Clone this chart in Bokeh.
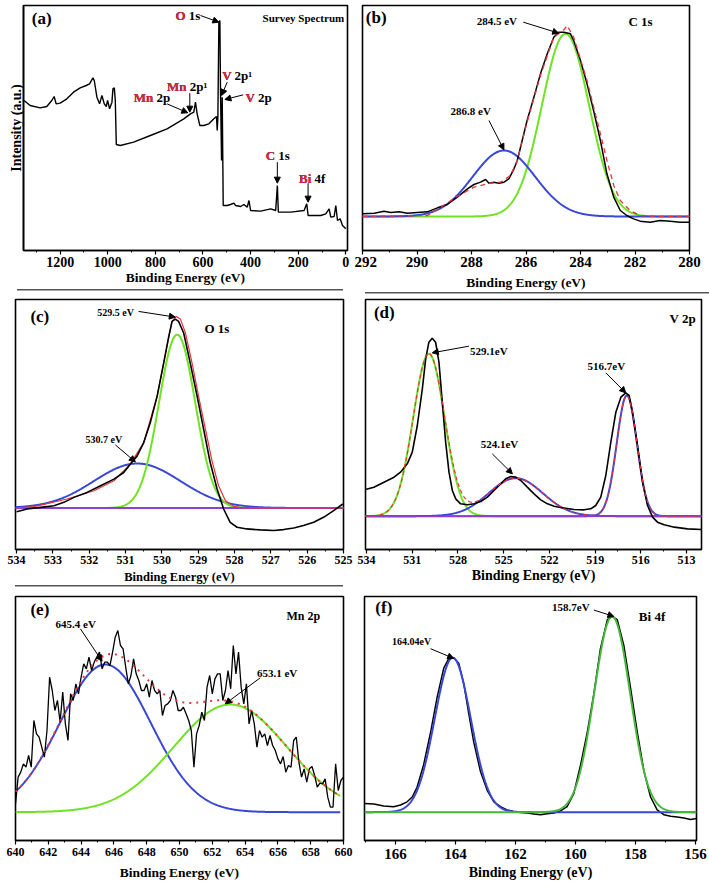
import numpy as np
from bokeh.plotting import figure
from bokeh.layouts import row, column
from bokeh.models import Range1d, Label, Arrow, NormalHead, SingleIntervalTicker, FixedTicker
from bokeh.embed import file_html
from bokeh.resources import INLINE

FONT = "Liberation Serif"
ELEM_RED = "#e0243c"
BLUE = "#3947d6"
GREEN = "#6ee321"
GREEN_F = "#45b83a"
PURPLE = "#8e3fcf"
FIT_RED = "#e8343a"

# ---------------- (a) survey spectrum ----------------
survey_ev = [1351.6, 1326.3, 1284.2, 1256.1, 1235.1, 1225.3, 1216.8, 1200.0, 1171.9, 1143.9,
             1115.8, 1090.5, 1076.5, 1062.4, 1056.8, 1045.6, 1034.4, 1024.6, 1014.7, 1006.3,
             1000.7, 992.3, 982.5, 978.3, 972.6, 968.4, 964.2, 947.4, 891.2, 821.0,
             750.9, 680.7, 652.6, 638.6, 631.6, 624.6, 613.3, 596.5, 575.4, 554.4,
             543.2, 540.3, 537.5, 533.3, 529.1, 526.3, 522.1, 519.3, 516.5, 515.1,
             498.2, 484.2, 470.2, 463.1, 442.1, 428.1, 414.0, 407.0, 400.0, 357.9,
             315.8, 294.7, 287.7, 283.5, 231.6, 175.4, 164.2, 158.6, 105.3, 84.2,
             70.2, 63.2, 49.1, 42.1, 35.1, 23.9, 14.0, 0.0]
survey_int = [450, 435, 428, 432, 450, 462, 440, 442, 455, 475,
              488, 495, 500, 518, 510, 460, 440, 465, 440, 432,
              450, 425, 445, 485, 488, 450, 318, 315, 325, 345,
              365, 395, 410, 415, 445, 410, 375, 375, 380, 395,
              402, 360, 400, 685, 690, 470, 270, 460, 250, 135,
              135, 138, 142, 135, 132, 138, 130, 150, 120, 118,
              125, 120, 195, 115, 115, 120, 140, 105, 105, 110,
              125, 100, 102, 135, 90, 95, 75, 65]

# ---------------- (b) C 1s ----------------
c1s_ev = [292.0, 291.57, 291.21, 290.96, 290.66, 290.35, 289.99, 289.62, 289.25, 288.89,
          288.52, 288.15, 287.91, 287.67, 287.48, 287.36, 287.18, 286.99, 286.81, 286.63,
          286.44, 286.32, 286.14, 285.96, 285.71, 285.47, 285.22, 284.98, 284.80, 284.61,
          284.37, 284.25, 284.00, 283.76, 283.52, 283.27, 283.03, 282.78, 282.54, 282.30,
          282.05, 281.81, 281.44, 281.08, 280.71, 280.34, 280.0]
c1s_int = [110, 112, 118, 114, 116, 112, 114, 116, 128, 138,
           160, 185, 198, 205, 213, 202, 205, 202, 205, 215,
           245, 270, 330, 390, 460, 530, 590, 640, 655, 655,
           650, 630, 570, 500, 420, 330, 230, 160, 120, 105,
           95, 88, 85, 90, 88, 85, 85]
c1s_env_ev = [292.0, 289.62, 289.13, 288.52, 287.91, 287.30, 286.93, 286.57, 286.32, 285.96,
              285.47, 284.98, 284.61, 284.49, 284.25, 283.76, 283.27, 283.03, 282.78, 282.54,
              282.18, 281.81, 281.20, 280.0]
c1s_env_int = [102, 105, 130, 162, 190, 202, 205, 225, 270, 385,
               525, 640, 662, 675, 640, 510, 350, 270, 195, 150,
               120, 105, 102, 102]
c1s_base = 102
c1s_peaks = [(284.55, 548, 0.87, GREEN), (286.81, 198, 1.14, BLUE)]

# ---------------- (c) O 1s ----------------
o1s_ev = [534.00, 533.71, 533.34, 532.97, 532.70, 532.42, 532.06, 531.69, 531.32, 531.05,
          530.87, 530.68, 530.50, 530.32, 530.13, 529.95, 529.81, 529.72, 529.63, 529.54,
          529.40, 529.22, 529.03, 528.85, 528.67, 528.48, 528.30, 528.12, 527.93, 527.66,
          527.29, 526.92, 526.65, 526.37, 526.10, 525.82, 525.55, 525.27, 525.02]
o1s_int = [114, 122, 127, 132, 142, 157, 172, 192, 212, 232,
           257, 282, 322, 382, 462, 562, 642, 687, 694, 687,
           652, 562, 462, 362, 262, 182, 122, 82, 67, 62,
           59, 57, 60, 65, 72, 82, 97, 117, 137]
o1s_env_ev = [534.00, 533.52, 532.61, 531.87, 531.32, 530.87, 530.50, 530.13, 529.86, 529.72,
              529.60, 529.49, 529.35, 529.17, 528.99, 528.80, 528.62, 528.44, 528.25, 528.02,
              527.75, 525.02]
o1s_env_int = [125, 129, 152, 177, 207, 257, 322, 462, 612, 687,
               702, 694, 652, 562, 462, 362, 267, 192, 147, 130,
               125, 125]
o1s_base = 125
o1s_peaks = [(530.68, 134, 1.19, BLUE), (529.58, 522, 0.50, GREEN)]

# ---------------- (d) V 2p ----------------
v2p_ev = [534.07, 533.52, 532.86, 532.20, 531.77, 531.33, 531.00, 530.67, 530.34, 530.12,
          529.91, 529.69, 529.47, 529.25, 529.03, 528.81, 528.59, 528.37, 528.15, 527.83,
          527.39, 526.95, 526.51, 526.07, 525.64, 525.20, 524.87, 524.54, 524.21, 523.88,
          523.45, 523.01, 522.57, 522.13, 521.69, 521.04, 520.38, 519.72, 519.29, 518.96,
          518.63, 518.30, 517.97, 517.64, 517.31, 516.99, 516.77, 516.55, 516.22, 515.89,
          515.56, 515.23, 514.91, 514.47, 513.81, 512.94, 512.02]
v2p_int = [180, 187, 202, 217, 232, 257, 292, 372, 482, 572,
           622, 634, 622, 562, 442, 322, 232, 177, 152, 137,
           134, 137, 144, 157, 177, 197, 212, 219, 217, 207,
           187, 167, 149, 137, 130, 124, 120, 119, 122, 132,
           157, 222, 322, 412, 457, 470, 462, 412, 312, 202,
           132, 97, 82, 74, 67, 62, 60]
v2p_base = 100
v2p_peaks = [(529.91, 487, 1.03, GREEN), (524.21, 114, 1.77, BLUE), (516.92, 362, 0.66, BLUE)]

# ---------------- (e) Mn 2p ----------------
mn_ev = [640.0, 640.16, 640.32, 640.48, 640.64, 640.8, 640.96, 641.12, 641.28, 641.44,
         641.6, 641.76, 641.92, 642.08, 642.24, 642.4, 642.56, 642.72, 642.88, 643.04,
         643.2, 643.36, 643.52, 643.68, 643.84, 644.0, 644.16, 644.32, 644.48, 644.64,
         644.8, 644.96, 645.12, 645.28, 645.44, 645.6, 645.76, 645.92, 646.08, 646.24,
         646.4, 646.56, 646.72, 646.88, 647.04, 647.2, 647.36, 647.52, 647.68, 647.84,
         648.0, 648.16, 648.32, 648.48, 648.64, 648.8, 648.96, 649.12, 649.28, 649.44,
         649.6, 649.76, 649.92, 650.08, 650.24, 650.4, 650.56, 650.72, 650.88, 651.04,
         651.2, 651.36, 651.52, 651.68, 651.84, 652.0, 652.16, 652.32, 652.48, 652.64,
         652.8, 652.96, 653.12, 653.28, 653.44, 653.6, 653.76, 653.92, 654.08, 654.24,
         654.4, 654.56, 654.72, 654.88, 655.04, 655.2, 655.36, 655.52, 655.68, 655.84,
         656.0, 656.16, 656.32, 656.48, 656.64, 656.8, 656.96, 657.12, 657.28, 657.44,
         657.6, 657.76, 657.92, 658.08, 658.24, 658.4, 658.56, 658.72, 658.88, 659.04,
         659.2, 659.36, 659.52, 659.68, 659.84, 660.0]
mn_int = [110, 190, 205, 230, 220, 255, 220, 360, 320, 310,
          280, 250, 330, 490, 450, 390, 420, 355, 445, 350,
          300, 440, 420, 470, 440, 490, 530, 515, 550, 510,
          535, 550, 565, 515, 535, 535, 525, 565, 610, 630,
          585, 575, 520, 470, 495, 545, 500, 480, 450, 450,
          470, 430, 480, 450, 440, 450, 375, 405, 410, 420,
          450, 430, 390, 390, 400, 380, 360, 330, 220, 320,
          345, 385, 360, 460, 495, 440, 485, 500, 500, 420,
          450, 510, 455, 585, 500, 565, 460, 410, 470, 350,
          390, 350, 280, 330, 310, 320, 285, 315, 285, 270,
          245, 230, 252, 205, 225, 220, 300, 310, 235, 190,
          215, 175, 215, 222, 195, 160, 172, 170, 185, 130,
          100, 100, 230, 150, 180, 190]
mn_base = 85
mn_peaks = [(645.48, 443, 2.76, BLUE), (653.10, 323, 3.45, GREEN)]

# ---------------- (f) Bi 4f ----------------
bi_ev = [167.03, 166.72, 166.39, 166.06, 165.83, 165.61, 165.44, 165.28, 165.06, 164.83,
         164.61, 164.39, 164.22, 164.06, 163.89, 163.72, 163.56, 163.39, 163.17, 162.94,
         162.72, 162.50, 162.28, 162.06, 161.83, 161.61, 161.39, 161.17, 160.94, 160.72,
         160.50, 160.28, 160.06, 159.83, 159.61, 159.39, 159.17, 158.94, 158.78, 158.61,
         158.39, 158.17, 157.94, 157.72, 157.50, 157.28, 157.06, 156.83, 156.61, 156.39,
         156.17, 155.97]
bi_int = [115, 113, 107, 105, 110, 120, 135, 165, 235, 335,
          445, 535, 565, 567, 550, 485, 395, 305, 215, 155,
          120, 105, 95, 90, 87, 85, 82, 80, 83, 85,
          92, 105, 145, 235, 335, 455, 595, 685, 695, 685,
          605, 475, 335, 215, 135, 95, 80, 75, 73, 70,
          65, 68]
bi_base = 88
bi_peaks = [(164.09, 479, 0.60, BLUE), (158.78, 607, 0.60, GREEN_F)]


def gauss(x, c, a, s):
    return a * np.exp(-0.5 * ((x - c) / s) ** 2)


def panel(w, h, xr, ytop, borders, interval, tick_px, title_px,
          label_gap=2, title_gap=0, ylabel=False, rule=None):
    kw = dict(width=w, height=h, x_range=Range1d(*xr), y_range=Range1d(0, ytop),
              output_backend="svg", toolbar_location=None,
              min_border_left=borders[0], min_border_right=borders[1],
              min_border_top=borders[2], min_border_bottom=borders[3])
    if not ylabel:
        kw["y_axis_location"] = None
    p = figure(**kw)
    p.xgrid.visible = False
    p.ygrid.visible = False
    p.outline_line_color = "black"
    p.outline_line_width = 1.6
    p.outline_line_alpha = 1
    if rule is not None:
        # thin grey rule of the original composite, painted behind a transparent border
        x0, y0, length = rule
        p.border_fill_alpha = 0
        p.background_fill_color = "white"
        p.styles = {"background": f"linear-gradient(#555, #555) no-repeat {x0}px {y0}px / {length}px 1.5px, white"}
    ax = p.xaxis[0]
    ax.ticker = SingleIntervalTicker(interval=interval, num_minor_ticks=2)
    ax.axis_label = "Binding Energy (eV)"
    ax.axis_label_text_font = FONT
    ax.axis_label_text_font_style = "bold"
    ax.axis_label_text_font_size = f"{title_px}px"
    ax.axis_label_text_color = "black"
    ax.major_label_text_font = FONT
    ax.major_label_text_font_style = "bold"
    ax.major_label_text_font_size = f"{tick_px}px"
    ax.major_label_text_color = "black"
    ax.major_tick_out = 4
    ax.major_tick_in = 0
    ax.minor_tick_out = 2
    ax.minor_tick_in = 0
    ax.axis_line_width = 1.6
    ax.major_tick_line_width = 1.2
    ax.major_label_standoff = label_gap
    ax.axis_label_standoff = title_gap
    if ylabel:
        ya = p.yaxis[0]
        ya.ticker = FixedTicker(ticks=[])
        ya.axis_label = "Intensity (a.u.)"
        ya.axis_label_text_font = FONT
        ya.axis_label_text_font_style = "bold"
        ya.axis_label_text_font_size = "14px"
        ya.axis_label_text_color = "black"
        ya.major_tick_out = 0
        ya.minor_tick_out = 0
        ya.major_label_standoff = 0
        ya.axis_label_standoff = 0
        ya.axis_line_width = 1.6
    return p


def lab(p, x, y, text, size, color="black", align="left"):
    p.add_layout(Label(x=x, y=y, text=text, text_font=FONT, text_font_style="bold",
                       text_font_size=f"{size}px", text_color=color,
                       text_align=align, text_baseline="middle"))


def elem(p, x, y, element, line, size=13):
    # full text in black, element symbol over-printed in red at the same spot
    lab(p, x, y, element + " " + line, size)
    lab(p, x, y, element, size, ELEM_RED)


def arr(p, x0, y0, x1, y1):
    p.add_layout(Arrow(end=NormalHead(size=6, fill_color="black", line_color="black", line_width=1),
                       x_start=x0, y_start=y0, x_end=x1, y_end=y1,
                       line_color="black", line_width=1))


def components(p, lo, hi, base, peaks, width=2):
    xs = np.linspace(lo, hi, 600)
    total = np.full_like(xs, float(base))
    for c, a, s, col in peaks:
        ys = base + gauss(xs, c, a, s)
        total += gauss(xs, c, a, s)
        p.line(xs, ys, line_color=col, line_width=width)
    return xs, total


# ---- (a)
pa = panel(354, 295, (1354, -7), 735, (23, 7, 5, 45), 200, 14, 13.5, ylabel=True,
           rule=(17, 289, 326))
pa.line(survey_ev, survey_int, line_color="black", line_width=1.4)
lab(pa, 1319, 695, "(a)", 17)
lab(pa, 7, 698, "Survey Spectrum", 11, align="right")
elem(pa, 715.8, 705, "O", "1s")
arr(pa, 610.5, 705, 533.3, 685)
elem(pa, 750.9, 492, "Mn", "2p\u00b9")
arr(pa, 655.4, 472, 655.4, 415)
elem(pa, 891.2, 460, "Mn", "2p")
arr(pa, 750.9, 440, 663.9, 413)
elem(pa, 519.3, 525, "V", "2p\u00b9")
arr(pa, 498.2, 505, 522.1, 465)
elem(pa, 421.1, 460, "V", "2p")
arr(pa, 430.9, 467, 508.1, 453)
elem(pa, 336.8, 285, "C", "1s")
arr(pa, 287.7, 265, 287.7, 202)
elem(pa, 196.5, 215, "Bi", "4f")
arr(pa, 158.6, 202, 158.6, 145)

# ---- (b)
pb = panel(355, 295, (292, 280), 735, (8, 20, 5, 45), 2, 15, 13.5, title_gap=5,
           rule=(11, 292, 344))
components(pb, 292, 280, c1s_base, c1s_peaks)
pb.line(c1s_ev, c1s_int, line_color="black", line_width=1.5)
pb.line(c1s_env_ev, c1s_env_int, line_color=FIT_RED, line_width=1.3, line_dash="5 4")
lab(pb, 291.88, 700, "(b)", 17)
lab(pb, 282.24, 688, "C 1s", 13)
lab(pb, 287.81, 690, "284.5 eV", 11)
arr(pb, 286.10, 685, 284.80, 652)
lab(pb, 288.77, 418, "286.8 eV", 11)
arr(pb, 287.36, 390, 286.81, 302)

# ---- (c)
pc = panel(354, 295, (534.03, 525.0), 753, (15, 11, 3, 41), 1, 12, 12.5, title_gap=3,
           rule=(15, 290, 328))
components(pc, 534.03, 525.0, o1s_base, o1s_peaks)
pc.line([534.03, 525.0], [o1s_base, o1s_base], line_color=PURPLE, line_width=2)
pc.line(o1s_env_ev, o1s_env_int, line_color=FIT_RED, line_width=1.2)
pc.line(o1s_ev, o1s_int, line_color="black", line_width=1.6)
lab(pc, 533.62, 702, "(c)", 17)
lab(pc, 531.78, 714, "529.5 eV", 10)
arr(pc, 530.64, 717, 529.63, 700)
lab(pc, 528.83, 665, "O 1s", 13)
lab(pc, 532.10, 330, "530.7 eV", 10)
arr(pc, 531.28, 315, 530.73, 264)

# ---- (d)
pd_ = panel(355, 295, (534.07, 512.02), 750, (11, 8, 4, 41), 3, 12, 14, title_gap=1)
xs_d, tot_d = components(pd_, 534.07, 512.02, v2p_base, v2p_peaks)
pd_.line([534.07, 512.02], [v2p_base, v2p_base], line_color=PURPLE, line_width=1.5)
pd_.line(v2p_ev, v2p_int, line_color="black", line_width=1.6)
pd_.line(xs_d, tot_d, line_color=FIT_RED, line_width=1.2, line_dash="4 3")
lab(pd_, 533.52, 712, "(d)", 17)
lab(pd_, 512.39, 694, "V 2p", 13, align="right")
lab(pd_, 527.21, 597, "529.1eV", 11)
arr(pd_, 527.28, 610, 529.69, 590)
lab(pd_, 519.50, 552, "516.7eV", 11)
arr(pd_, 518.30, 530, 516.99, 470)
lab(pd_, 526.51, 317, "524.1eV", 11)
arr(pd_, 525.75, 287, 524.43, 227)

# ---- (e)
pe = panel(354, 303, (640, 660), 732, (15, 11, 6, 53), 2, 12, 13.5, label_gap=3, title_gap=6)
xs_e, tot_e = components(pe, 640, 659.8, mn_base, mn_peaks)
pe.line(mn_ev, mn_int, line_color="black", line_width=1.3)
pe.line(xs_e, tot_e, line_color=FIT_RED, line_width=2, line_dash="2 5")
lab(pe, 640.91, 692, "(e)", 17)
lab(pe, 658.58, 675, "Mn 2p", 12, align="right")
lab(pe, 642.44, 650, "645.4 eV", 11)
arr(pe, 643.96, 635, 645.28, 538)
lab(pe, 654.72, 503, "653.1 eV", 11)
arr(pe, 654.92, 488, 652.79, 410)

# ---- (f)
pf = panel(355, 303, (167.03, 155.97), 757, (10, 13, 6, 45), 2, 15, 14, label_gap=4, title_gap=3)
pf.line(bi_ev, bi_int, line_color="black", line_width=1.5)
components(pf, 167.03, 155.97, bi_base, bi_peaks)
lab(pf, 166.67, 723, "(f)", 17)
lab(pf, 157.89, 695, "Bi 4f", 13)
lab(pf, 160.78, 725, "158.7eV", 11)
arr(pf, 159.39, 715, 158.72, 695)
lab(pf, 166.11, 618, "164.04eV", 10)
arr(pf, 164.83, 595, 164.06, 565)

layout = column(row(pa, pb), row(pc, pd_), row(pe, pf))
open("out.html", "w").write(file_html(layout, INLINE))
